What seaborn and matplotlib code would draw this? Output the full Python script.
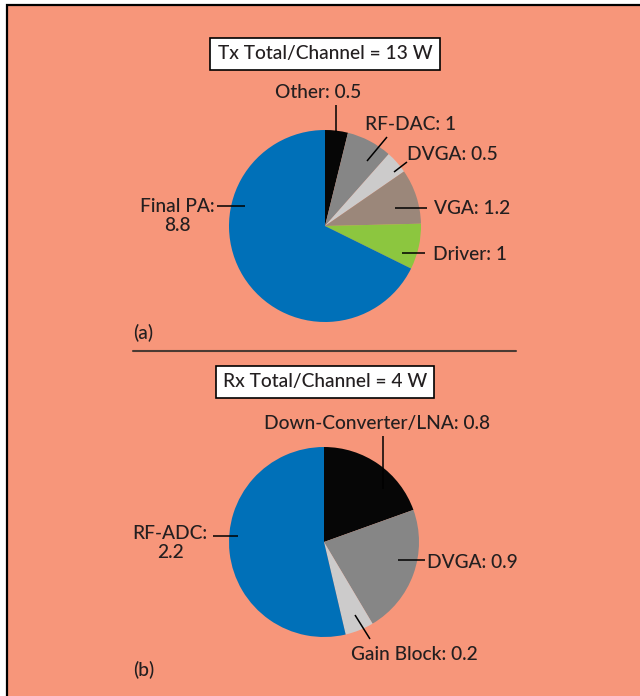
import matplotlib
matplotlib.use("Agg")
import matplotlib.pyplot as plt
import seaborn as sns
from matplotlib.patches import Rectangle

# data
tx_labels = ["Other", "RF-DAC", "DVGA", "VGA", "Driver", "Final PA"]
tx_values = [0.5, 1, 0.5, 1.2, 1, 8.8]
tx_colors = ["#060606", "#868686", "#CCCBCB", "#9B877A", "#8CC63F", "#0070B8"]
tx_title = "Tx Total/Channel = 13 W"

rx_labels = ["Down-Converter/LNA", "DVGA", "Gain Block", "RF-ADC"]
rx_values = [0.8, 0.9, 0.2, 2.2]
rx_colors = ["#060606", "#868686", "#CCCBCB", "#0070B8"]
rx_title = "Rx Total/Channel = 4 W"

W, H = 640, 696
BG = "#F7967A"
TXT = "#231F20"
FS = 13.8

sns.set_theme(style="white")
plt.rcParams["font.family"] = ["Lato", "DejaVu Sans"]
plt.rcParams["font.weight"] = "medium"

fig = plt.figure(figsize=(W / 100, H / 100), dpi=100)
fig.patch.set_facecolor("white")
fig.patches.append(Rectangle((7 / W, -0.1), 1.2, 1.1 - 5 / H, transform=fig.transFigure,
                             facecolor=BG, edgecolor="black", linewidth=1.6, zorder=-1))

ax = fig.add_axes([0, 0, 1, 1])
ax.set_facecolor("none")


def Y(py):
    return H - py


def label_pie(ax, values, labels, colors, center, radius, notes):
    cx, cy = center
    ax.pie(values, colors=colors, startangle=90, counterclock=False,
           center=(cx, Y(cy)), radius=radius, wedgeprops=dict(linewidth=0))
    for lab, val in zip(labels, values):
        text, tpos, ha, line = notes[lab]
        s = text.format(lab=lab, val=f"{val:g}")
        ax.text(tpos[0], Y(tpos[1]), s, ha=ha, va="center", fontsize=FS,
                color=TXT, linespacing=1.1)
        (x0, y0), (x1, y1) = line
        ax.plot([x0, x1], [Y(y0), Y(y1)], color="black", lw=1.1, solid_capstyle="butt")


def title_box(ax, text, x, y):
    ax.text(x, Y(y), text, ha="center", va="center", fontsize=FS, color=TXT,
            bbox=dict(boxstyle="square,pad=0.38", facecolor="white", edgecolor="black", lw=1.2))


# (a) transmit
tx_notes = {
    "Other": ("{lab}: {val}", (318, 92), "center", ((336, 105), (336, 132))),
    "RF-DAC": ("{lab}: {val}", (365, 124), "left", ((367, 161), (387, 137))),
    "DVGA": ("{lab}: {val}", (407, 154), "left", ((394, 172), (407, 162))),
    "VGA": ("{lab}: {val}", (434, 209), "left", ((395, 208), (427, 208))),
    "Driver": ("{lab}: {val}", (433, 254), "left", ((402, 253), (425, 253))),
    "Final PA": ("{lab}:\n{val}", (177, 216), "center", ((217, 206), (245, 206))),
}
title_box(ax, tx_title, 325, 54)
label_pie(ax, tx_values, tx_labels, tx_colors, (325, 226), 96, tx_notes)
ax.text(133, Y(333), "(a)", ha="left", va="center", fontsize=FS, color=TXT)
ax.plot([133, 516], [Y(351), Y(351)], color="#4A3A33", lw=1.5)

# (b) receive
rx_notes = {
    "Down-Converter/LNA": ("{lab}: {val}", (377, 423), "center", ((383, 436), (383, 489))),
    "DVGA": ("{lab}: {val}", (427, 562), "left", ((398, 560), (425, 560))),
    "Gain Block": ("{lab}: {val}", (351, 654), "left", ((355, 615), (370, 639))),
    "RF-ADC": ("{lab}:\n{val}", (170, 543), "center", ((213, 536), (238, 536))),
}
title_box(ax, rx_title, 325, 382)
label_pie(ax, rx_values, rx_labels, rx_colors, (324, 542), 95, rx_notes)
ax.text(133, Y(670), "(b)", ha="left", va="center", fontsize=FS, color=TXT)

ax.set_xlim(0, W)
ax.set_ylim(0, H)
ax.set_aspect("equal")
ax.axis("off")

fig.savefig("out.png", dpi=100, facecolor=fig.get_facecolor())
